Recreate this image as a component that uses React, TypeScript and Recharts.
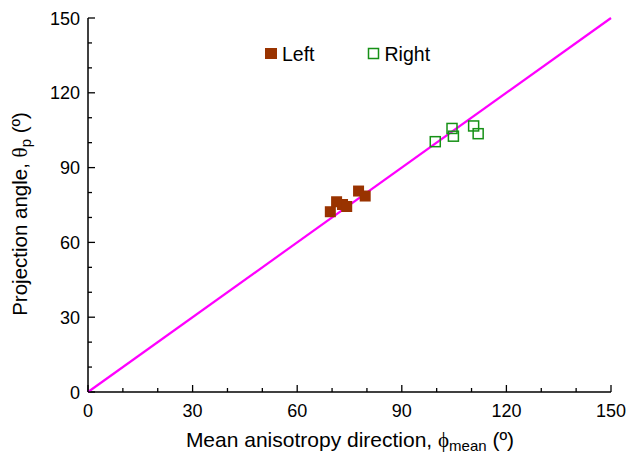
import React from "react";
import { ScatterChart, Scatter, XAxis, YAxis, Legend, Label } from "recharts";

const leftPts = [
  { x: 69.5, y: 72.3 },
  { x: 71.3, y: 76.3 },
  { x: 73.0, y: 75.2 },
  { x: 74.2, y: 74.4 },
  { x: 77.6, y: 80.6 },
  { x: 79.5, y: 78.6 },
];
const rightPts = [
  { x: 99.6, y: 100.4 },
  { x: 104.4, y: 105.7 },
  { x: 104.8, y: 102.6 },
  { x: 110.6, y: 106.7 },
  { x: 111.9, y: 103.6 },
];
const identityLine = [
  { x: 0, y: 0 },
  { x: 150, y: 150 },
];
const ticks = [0, 10, 20, 30, 40, 50, 60, 70, 80, 90, 100, 110, 120, 130, 140, 150];

const FONT = "'Liberation Sans', Arial, sans-serif";
const BROWN = "#993300";
const GREEN = "#169116";

const XTick = (p: any) => {
  const major = p.payload.value % 30 === 0;
  return (
    <g>
      <line x1={p.x} x2={p.x} y1={p.y} y2={p.y - (major ? 7 : 4)} stroke="#000" strokeWidth={1.3} />
      {major && (
        <text x={p.x} y={p.y + 25} textAnchor="middle" fontSize={18} fontFamily={FONT} fill="#000">
          {p.payload.value}
        </text>
      )}
    </g>
  );
};

const YTick = (p: any) => {
  const major = p.payload.value % 30 === 0;
  return (
    <g>
      <line x1={p.x} x2={p.x + (major ? 7 : 4)} y1={p.y} y2={p.y} stroke="#000" strokeWidth={1.3} />
      {major && (
        <text x={p.x - 8} y={p.y + 6.5} textAnchor="end" fontSize={18} fontFamily={FONT} fill="#000">
          {p.payload.value}
        </text>
      )}
    </g>
  );
};

const FilledSq = (p: any) => (
  <rect x={p.cx - 5.5} y={p.cy - 5.5} width={11} height={11} fill={BROWN} />
);
const OpenSq = (p: any) => (
  <rect x={p.cx - 5} y={p.cy - 5} width={10} height={10} fill="none" stroke={GREEN} strokeWidth={1.5} />
);

const LegendBox = (props: any) => {
  const items = (props.payload || []).filter((e: any) => e.value === "Left" || e.value === "Right");
  return (
    <div style={{ display: "flex", alignItems: "center", fontFamily: FONT, fontSize: 19.5, color: "#000", lineHeight: "22px" }}>
      {items.map((e: any) => (
        <div key={e.value} style={{ display: "flex", alignItems: "center", marginRight: 52 }}>
          <svg width={14} height={14} style={{ marginRight: 4 }}>
            {e.value === "Left" ? (
              <rect x={1} y={1} width={12} height={11} fill={BROWN} />
            ) : (
              <rect x={1.5} y={1.5} width={10} height={10} fill="none" stroke={GREEN} strokeWidth={1.5} />
            )}
          </svg>
          <span>{e.value}</span>
        </div>
      ))}
    </div>
  );
};

export default function App() {
  return (
    <div style={{ position: "absolute", left: 0, top: 0, background: "#fff" }}>
      <ScatterChart width={627} height={455} margin={{ top: 18, right: 16, left: 0, bottom: 0 }}>
        <XAxis
          type="number"
          dataKey="x"
          domain={[0, 150]}
          ticks={ticks}
          interval={0}
          tickSize={0}
          tickMargin={0}
          tick={<XTick />}
          height={63}
          axisLine={{ stroke: "#000", strokeWidth: 1.5 }}
        >
          <Label
            content={() => (
              <text x={350} y={447} textAnchor="middle" fontFamily={FONT} fontSize={21} fill="#000">
                Mean anisotropy direction,{" "}
                <tspan fontFamily="'Liberation Serif', serif" fontSize={21}>ϕ</tspan>
                <tspan fontSize={15} dy={4}>mean</tspan>
                <tspan dy={-4}> (º)</tspan>
              </text>
            )}
          />
        </XAxis>
        <YAxis
          type="number"
          dataKey="y"
          domain={[0, 150]}
          ticks={ticks}
          interval={0}
          tickSize={0}
          tickMargin={0}
          tick={<YTick />}
          width={88}
          axisLine={{ stroke: "#000", strokeWidth: 1.5 }}
        >
          <Label
            content={() => (
              <text
                x={0}
                y={0}
                transform="translate(27,214) rotate(-90)"
                textAnchor="middle"
                fontFamily={FONT}
                fontSize={20.5}
                fill="#000"
              >
                Projection angle,{" "}
                <tspan fontFamily="'Liberation Serif', serif" fontSize={21}>θ</tspan>
                <tspan fontSize={15} dy={4}>p</tspan>
                <tspan dy={-4}> (º)</tspan>
              </text>
            )}
          />
        </YAxis>
        <XAxis
          xAxisId="top"
          orientation="top"
          type="number"
          domain={[0, 150]}
          height={0}
          tick={false}
          tickLine={false}
          axisLine={{ stroke: "#000", strokeWidth: 1.5 }}
        />
        <YAxis
          yAxisId="right"
          orientation="right"
          type="number"
          domain={[0, 150]}
          width={0}
          tick={false}
          tickLine={false}
          axisLine={{ stroke: "#000", strokeWidth: 1.5 }}
        />
        <Legend
          layout="horizontal"
          verticalAlign="middle"
          align="center"
          content={<LegendBox />}
          wrapperStyle={{ position: "absolute", left: 264, top: 43, width: "auto" }}
        />
        <Scatter
          name="diag"
          data={identityLine}
          line={{ stroke: "#ff00ff", strokeWidth: 2.2 }}
          shape={() => null}
          legendType="none"
          isAnimationActive={false}
        />
        <Scatter name="Left" data={leftPts} shape={<FilledSq />} isAnimationActive={false} />
        <Scatter name="Right" data={rightPts} shape={<OpenSq />} isAnimationActive={false} />
      </ScatterChart>
    </div>
  );
}
